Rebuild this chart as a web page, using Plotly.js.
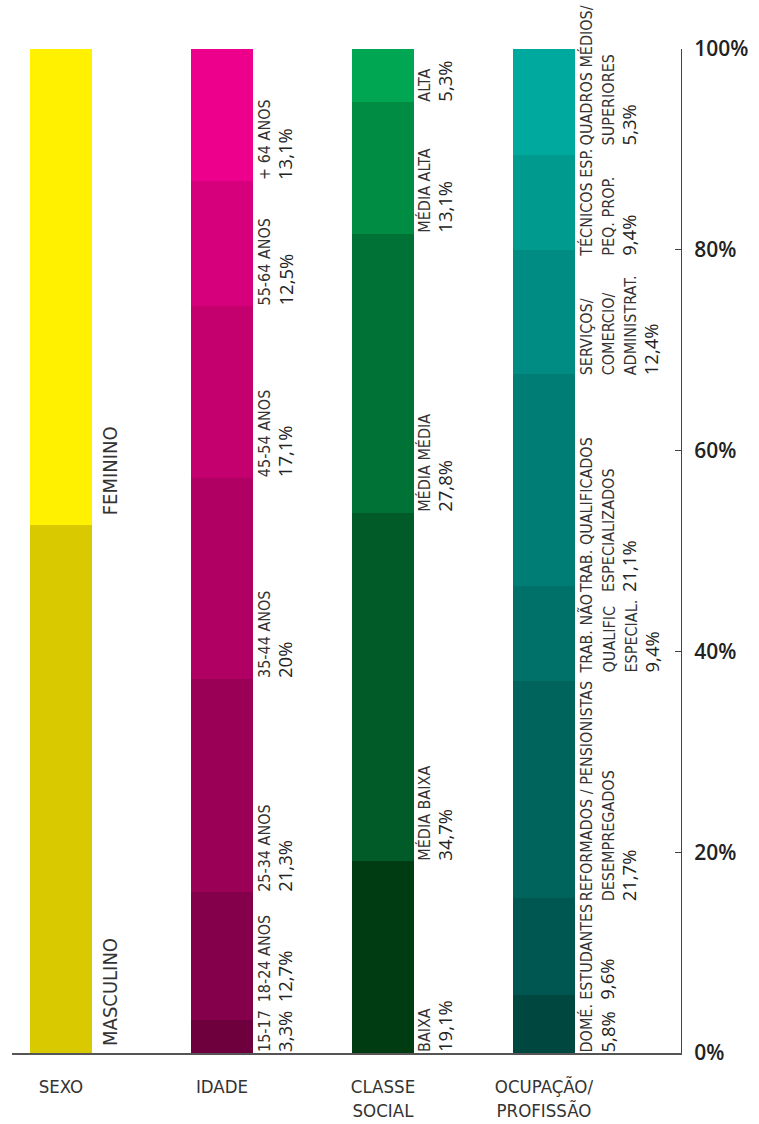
<!DOCTYPE html>
<html><head><meta charset="utf-8">
<script src="https://cdn.plot.ly/plotly-3.0.1.min.js"></script>
<style>html,body{margin:0;padding:0;background:#fff}#chart{width:759px;height:1124px}</style>
</head><body><div id="chart"></div>
<script>
const categories = ['SEXO', 'IDADE', 'CLASSE<br>SOCIAL', 'OCUPAÇÃO/<br>PROFISSÃO'];

const sexoNames = ['MASCULINO', 'FEMININO'];
const sexoValues = [52.6, 47.4];
const sexoPct = ['', ''];

const idadeNames = ['15-17', '18-24 ANOS', '25-34 ANOS', '35-44 ANOS', '45-54 ANOS', '55-64 ANOS', '+ 64 ANOS'];
const idadeValues = [3.3, 12.7, 21.3, 20, 17.1, 12.5, 13.1];
const idadePct = ['3,3%', '12,7%', '21,3%', '20%', '17,1%', '12,5%', '13,1%'];

const classeNames = ['BAIXA', 'MÉDIA BAIXA', 'MÉDIA MÉDIA', 'MÉDIA ALTA', 'ALTA'];
const classeValues = [19.1, 34.7, 27.8, 13.1, 5.3];
const classePct = ['19,1%', '34,7%', '27,8%', '13,1%', '5,3%'];

const ocupNames = ['DOMÉ.', 'ESTUDANTES', 'REFORMADOS / PENSIONISTAS<br>DESEMPREGADOS', 'TRAB. NÃO<br>QUALIFIC<br>ESPECIAL.',
  'TRAB. QUALIFICADOS<br>ESPECIALIZADOS', 'SERVIÇOS/<br>COMERCIO/<br>ADMINISTRAT.', 'TÉCNICOS ESP.<br>PEQ. PROP.', 'QUADROS MÉDIOS/<br>SUPERIORES'];
const ocupValues = [5.8, 9.6, 21.7, 9.4, 21.1, 12.4, 9.4, 10.6];
const ocupPct = ['5,8%', '9,6%', '21,7%', '9,4%', '21,1%', '12,4%', '9,4%', '5,3%'];

// styling (kept apart from data)
const sexoColors = ['#D9C900', '#FFF100'];
const idadeColors = ['#6E003D', '#85004A', '#9A0056', '#B00064', '#C4006F', '#D6007D', '#EC008C'];
const classeColors = ['#003C12', '#005B28', '#007236', '#008C43', '#00A651'];
const ocupColors = ['#004740', '#005650', '#00645C', '#007168', '#007D75', '#008C83', '#009A8F', '#00A99D'];
// label nudges in px (positive = up) to keep labels from colliding
const sexoShift = [6, 9];
const idadeShift = [0, 17, 0, 0, 0, 0, 0];
const classeShift = [0, 0, 0, 0, 0];
const ocupShift = [0, -6, -4, 6, -8, -2, -8, 9];

const groups = [
  {names: sexoNames, values: sexoValues, pct: sexoPct, colors: sexoColors, shift: sexoShift, xs: 5, nameSize: 20},
  {names: idadeNames, values: idadeValues, pct: idadePct, colors: idadeColors, shift: idadeShift, xs: 1, nameSize: 16},
  {names: classeNames, values: classeValues, pct: classePct, colors: classeColors, shift: classeShift, xs: 0, nameSize: 16},
  {names: ocupNames, values: ocupValues, pct: ocupPct, colors: ocupColors, shift: ocupShift, xs: 1, nameSize: 16}
];

const NAME_FONT = "Liberation Sans Narrow, Arial Narrow, DejaVu Sans Condensed, sans-serif";
const PCT_FONT = "Open Sans, Noto Sans, sans-serif";
const BAR_W = 0.385;

const traces = [];
const annotations = [];
groups.forEach((g, gi) => {
  let base = 0;
  g.values.forEach((v, i) => {
    traces.push({
      type: 'bar', x: [gi], y: [v], width: BAR_W,
      marker: {color: g.colors[i], line: {width: 0}},
      showlegend: false, hoverinfo: 'skip'
    });
    const lines = g.names[i].split('<br>').map(s =>
      `<span style="font-family:${NAME_FONT};font-size:${g.nameSize}px;color:#333">${s}</span>`);
    if (g.pct[i]) lines.push(`<span style="font-family:${PCT_FONT};font-size:18.5px;color:#222">${g.pct[i]}</span>`);
    annotations.push({
      x: gi + BAR_W / 2, y: base, xref: 'x', yref: 'y',
      xanchor: 'left', yanchor: 'bottom', textangle: -90, align: 'left',
      text: lines.join('<br>'), showarrow: false,
      xshift: g.xs, yshift: g.shift[i], borderpad: 0,
      font: {size: 17, family: NAME_FONT, color: '#333'}
    });
    base += v;
  });
});

const layout = {
  width: 759, height: 1124,
  margin: {l: 12, r: 78, t: 49, b: 71},
  paper_bgcolor: '#fff', plot_bgcolor: '#fff',
  barmode: 'stack', bargap: 0,
  xaxis: {
    range: [-0.304, 3.851], tickvals: [0, 1, 2, 3], ticktext: categories,
    showline: true, linecolor: '#555', linewidth: 1.5, ticks: '', showgrid: false, zeroline: false,
    ticklabelstandoff: 16,
    tickfont: {family: NAME_FONT, size: 18.5, color: '#333'}
  },
  yaxis: {
    side: 'right', range: [0, 100], tickvals: [0, 20, 40, 60, 80, 100],
    ticktext: ['0%', '20%', '40%', '60%', '80%', '100%'],
    showline: true, linecolor: '#444', linewidth: 1, ticks: 'inside', ticklen: 6, tickcolor: '#444',
    showgrid: false, zeroline: false, ticklabelstandoff: 8,
    tickfont: {family: PCT_FONT, size: 21, color: '#222', weight: 600}
  },
  annotations: annotations,
  showlegend: false
};

Plotly.newPlot('chart', traces, layout, {displayModeBar: false, staticPlot: true});
</script>
</body></html>
